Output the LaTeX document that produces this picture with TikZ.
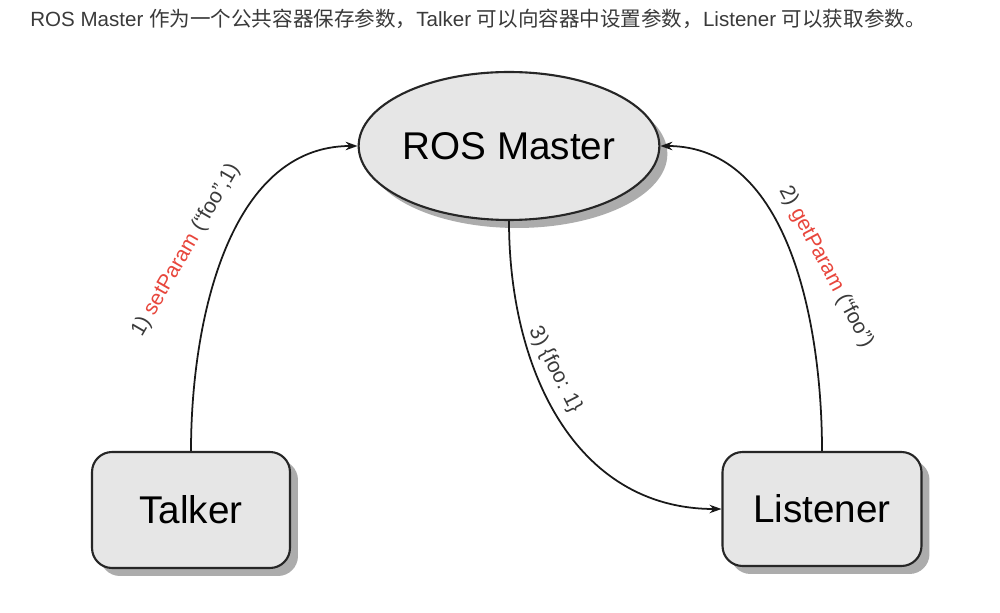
\documentclass[tikz,border=0pt]{standalone}
\usepackage{fontspec}
\setmainfont{Liberation Sans}
\newfontfamily\cjk{Noto Sans CJK SC}
\usetikzlibrary{shapes.geometric,shadows,arrows.meta}
\definecolor{boxgray}{HTML}{E6E6E6}
\definecolor{labred}{HTML}{E8463C}
\definecolor{txtgray}{HTML}{3A3A3A}
\begin{document}
\begin{tikzpicture}[x=0.02cm,y=0.02cm]
    \tikzset{block/.style={draw=black!85, line width=1.2pt, fill=boxgray, font=\fontsize{22}{24}\selectfont,
            drop shadow={shadow xshift=.16cm, shadow yshift=-.16cm, fill=gray!65, opacity=1}}}
    \tikzset{link/.style={line width=1pt, draw=black!90, -{Stealth[length=2.4mm,width=1.7mm]}}}
    \tikzset{lab/.style={font=\fontsize{12}{14}\selectfont, text=txtgray, inner sep=0}}
    \useasboundingbox[fill=white] (0,0) rectangle (1000,612);
    \node[anchor=base west, inner sep=0, text=txtgray, font=\fontsize{11.7}{13}\selectfont] (title) at (30,585)
        {ROS Master {\cjk 作为一个公共容器保存参数，}Talker {\cjk 可以向容器中设置参数，}Listener {\cjk 可以获取参数。}};
    \node[block, ellipse, minimum width=5.7cm, minimum height=2.96cm, inner sep=0] (master) at (509,466) {ROS Master};
    \node[block, rounded corners=0.4cm, minimum width=3.96cm, minimum height=2.32cm] (talker) at (191,102) {Talker};
    \node[block, rounded corners=0.4cm, minimum width=3.98cm, minimum height=2.28cm] (listener) at (822,103) {Listener};
    \draw[link] (talker.north) to[out=90, in=180, looseness=0.95] (master.west);
    \draw[link] (listener.north) to[out=90, in=0, looseness=0.95] (master.east);
    \draw[link] (master.south) to[out=-90, in=180, looseness=1.05] (listener.west);
    \node[lab, rotate=60] (set) at (186,362) {1) \textcolor{labred}{setParam} (``foo'',1)}; %label
    \node[lab, rotate=-62] (get) at (826,345) {2) \textcolor{labred}{getParam} (``foo'')}; %label
    \node[lab, rotate=-63] (val) at (555,242) {3) \{foo: 1\}}; %label
\end{tikzpicture}
\end{document}
